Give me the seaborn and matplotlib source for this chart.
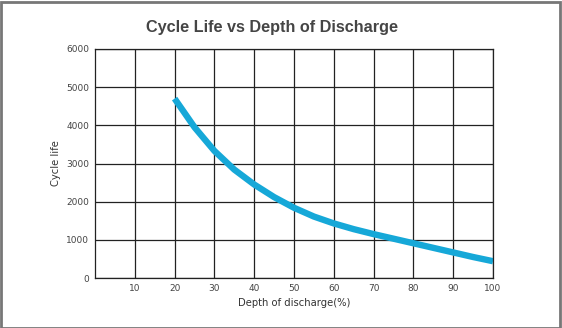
import matplotlib
matplotlib.use("Agg")
import matplotlib.pyplot as plt
import seaborn as sns
import pandas as pd
from matplotlib.patches import Rectangle

dod = [20, 25, 30, 35, 40, 45, 50, 55, 60, 65, 70, 75, 80, 85, 90, 95, 100]
cycles = [4700, 3950, 3330, 2840, 2450, 2120, 1840, 1610, 1430, 1280, 1150, 1030, 910, 790, 670, 550, 440]
x_ticks = [10, 20, 30, 40, 50, 60, 70, 80, 90, 100]
y_ticks = [0, 1000, 2000, 3000, 4000, 5000, 6000]

df = pd.DataFrame({"dod": dod, "cycles": cycles})

sns.set_theme(style="white")
plt.rcParams['font.family'] = ['DejaVu Sans']

fig = plt.figure(figsize=(5.62, 3.28), dpi=100)
ax = fig.add_axes([95/562, 1 - 278/328, (493-95)/562, (278-49)/328])

sns.lineplot(data=df, x="dod", y="cycles", ax=ax, color="#16a8d8", linewidth=4.6,
             solid_capstyle="butt", solid_joinstyle="round")

ax.set_xlim(0, 100)
ax.set_ylim(0, 6000)
ax.set_xticks(x_ticks)
ax.set_yticks(y_ticks)
ax.grid(True, color="#222222", linewidth=0.9)
ax.set_axisbelow(True)
for s in ax.spines.values():
    s.set_color("#222222")
    s.set_linewidth(0.9)
ax.tick_params(axis="both", labelsize=6.5, colors="#444444", length=0, pad=4)
ax.set_xlabel("Depth of discharge(%)", fontsize=7.2, color="#333333", labelpad=4)
ax.set_ylabel("Cycle life", fontsize=7.2, color="#333333", labelpad=4)

fig.text(272/562, 1 - 32/328, "Cycle Life vs Depth of Discharge", ha="center", va="baseline",
         fontsize=11.7, fontweight="bold", color="#454545", family=["Liberation Sans", "DejaVu Sans"])

fig.patches.append(Rectangle((0.5/562, 0.5/328), 1 - 3/562, 1 - 2/328, transform=fig.transFigure,
                             fill=False, edgecolor="#777777", linewidth=2))

fig.savefig("out.png", dpi=100)
